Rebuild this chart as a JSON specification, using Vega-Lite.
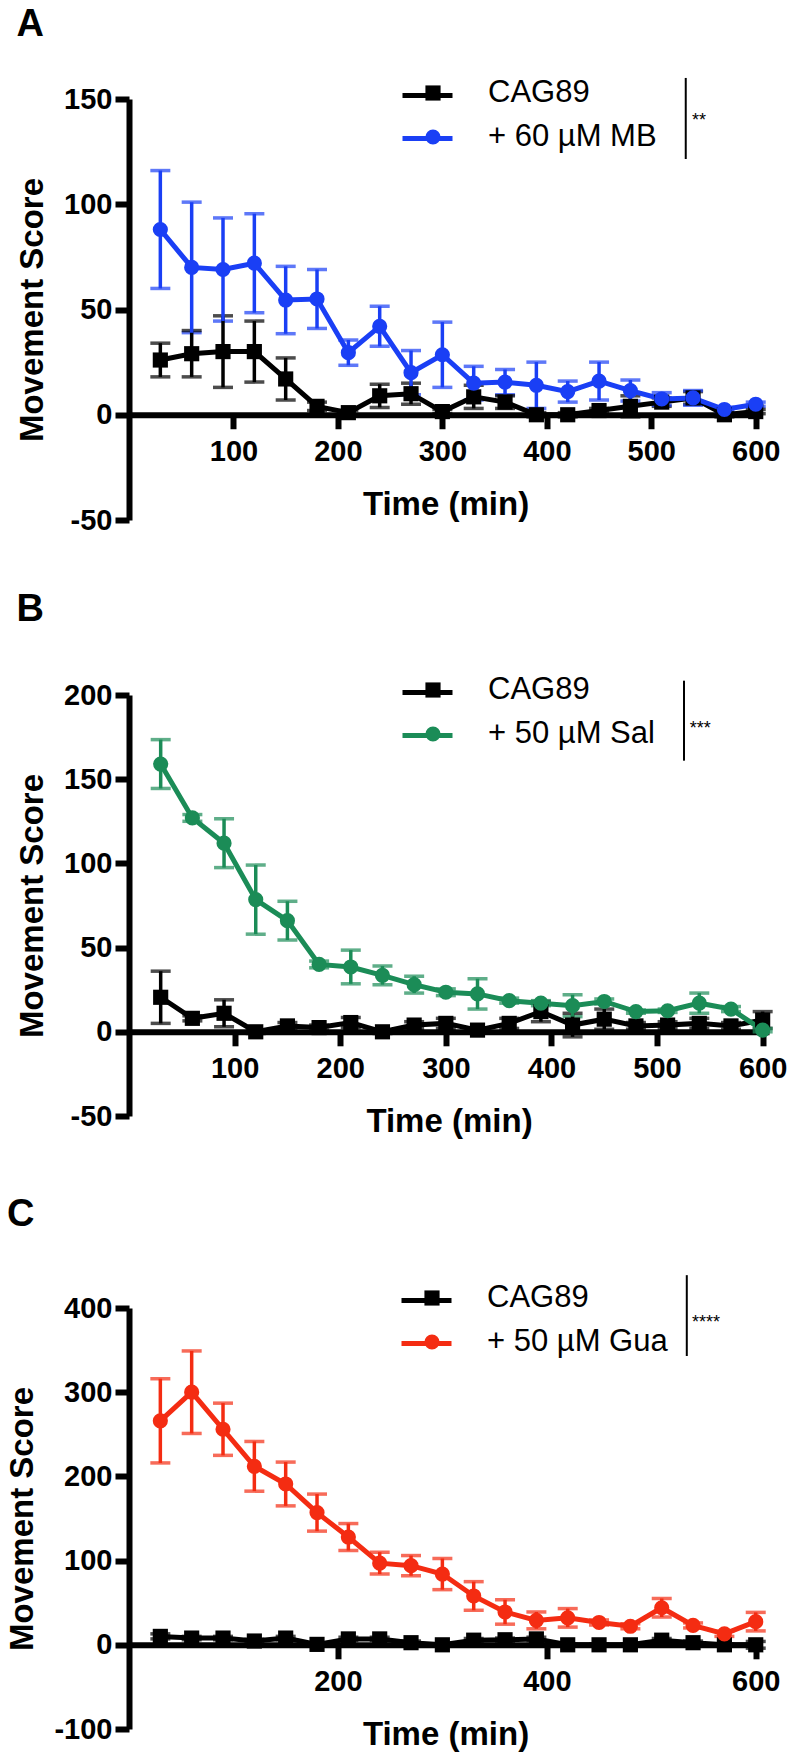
{
  "$schema": "https://vega.github.io/schema/vega-lite/v6.json",
  "background": "white",
  "padding": {"top": 6, "left": 6, "right": 0, "bottom": 0},
  "config": {
    "view": {"stroke": null},
    "font": "Liberation Sans",
    "axis": {"domainColor": "black", "domainWidth": 6, "tickColor": "black", "tickWidth": 6, "tickSize": 14, "labelFont": "Liberation Sans", "labelFontWeight": "bold", "labelFontSize": 29, "labelColor": "black", "titleFont": "Liberation Sans", "titleFontWeight": "bold", "titleFontSize": 33, "titleColor": "black", "grid": false, "labelFlush": false, "labelOverlap": false},
    "axisX": {"labelPadding": 9, "titlePadding": 22},
    "axisY": {"labelPadding": 3, "titlePadding": 14},
    "title": {"font": "Liberation Sans", "fontSize": 38, "fontWeight": "bold", "anchor": "start", "frame": "bounds", "color": "black"},
    "legend": {"orient": "none", "title": null, "padding": 0, "labelFont": "Liberation Sans", "labelFontSize": 31, "labelColor": "black", "labelFontWeight": "normal", "labelLimit": 500, "rowPadding": 12, "symbolOpacity": 1}
  },
  "datasets": {
    "A": [
      {"time": 30, "group": "CAG89", "mean": 26, "sem": 8},
      {"time": 60, "group": "CAG89", "mean": 29, "sem": 11},
      {"time": 90, "group": "CAG89", "mean": 30, "sem": 17},
      {"time": 120, "group": "CAG89", "mean": 30, "sem": 14.5},
      {"time": 150, "group": "CAG89", "mean": 17, "sem": 10},
      {"time": 180, "group": "CAG89", "mean": 4, "sem": 2},
      {"time": 210, "group": "CAG89", "mean": 1, "sem": 1},
      {"time": 240, "group": "CAG89", "mean": 9, "sem": 5.5},
      {"time": 270, "group": "CAG89", "mean": 10, "sem": 5},
      {"time": 300, "group": "CAG89", "mean": 1.5, "sem": 1},
      {"time": 330, "group": "CAG89", "mean": 8.5, "sem": 5.5},
      {"time": 360, "group": "CAG89", "mean": 6, "sem": 3},
      {"time": 390, "group": "CAG89", "mean": 0, "sem": 1},
      {"time": 420, "group": "CAG89", "mean": 0, "sem": 1},
      {"time": 450, "group": "CAG89", "mean": 2, "sem": 1},
      {"time": 480, "group": "CAG89", "mean": 4, "sem": 5},
      {"time": 510, "group": "CAG89", "mean": 6, "sem": 2},
      {"time": 540, "group": "CAG89", "mean": 8, "sem": 3},
      {"time": 570, "group": "CAG89", "mean": 0, "sem": 1},
      {"time": 600, "group": "CAG89", "mean": 1.5, "sem": 1},
      {"time": 30, "group": "+ 60 µM MB", "mean": 88, "sem": 28},
      {"time": 60, "group": "+ 60 µM MB", "mean": 70, "sem": 31},
      {"time": 90, "group": "+ 60 µM MB", "mean": 69, "sem": 24.5},
      {"time": 120, "group": "+ 60 µM MB", "mean": 72, "sem": 23.5},
      {"time": 150, "group": "+ 60 µM MB", "mean": 54.5, "sem": 16},
      {"time": 180, "group": "+ 60 µM MB", "mean": 55, "sem": 14},
      {"time": 210, "group": "+ 60 µM MB", "mean": 29.5, "sem": 6},
      {"time": 240, "group": "+ 60 µM MB", "mean": 42, "sem": 9.5},
      {"time": 270, "group": "+ 60 µM MB", "mean": 20, "sem": 10.5},
      {"time": 300, "group": "+ 60 µM MB", "mean": 28.5, "sem": 15.5},
      {"time": 330, "group": "+ 60 µM MB", "mean": 15, "sem": 8},
      {"time": 360, "group": "+ 60 µM MB", "mean": 15.5, "sem": 6},
      {"time": 390, "group": "+ 60 µM MB", "mean": 14, "sem": 11},
      {"time": 420, "group": "+ 60 µM MB", "mean": 11, "sem": 5},
      {"time": 450, "group": "+ 60 µM MB", "mean": 16, "sem": 9},
      {"time": 480, "group": "+ 60 µM MB", "mean": 11.5, "sem": 5},
      {"time": 510, "group": "+ 60 µM MB", "mean": 7.5, "sem": 3},
      {"time": 540, "group": "+ 60 µM MB", "mean": 8, "sem": 3.5},
      {"time": 570, "group": "+ 60 µM MB", "mean": 2.5, "sem": 1},
      {"time": 600, "group": "+ 60 µM MB", "mean": 5, "sem": 1}
    ],
    "B": [
      {"time": 30, "group": "CAG89", "mean": 20.5, "sem": 15.5},
      {"time": 60, "group": "CAG89", "mean": 8, "sem": 1.5},
      {"time": 90, "group": "CAG89", "mean": 11, "sem": 8},
      {"time": 120, "group": "CAG89", "mean": 0, "sem": 1},
      {"time": 150, "group": "CAG89", "mean": 3.5, "sem": 2},
      {"time": 180, "group": "CAG89", "mean": 2.5, "sem": 1.5},
      {"time": 210, "group": "CAG89", "mean": 5.5, "sem": 3},
      {"time": 240, "group": "CAG89", "mean": 0, "sem": 1},
      {"time": 270, "group": "CAG89", "mean": 4, "sem": 2},
      {"time": 300, "group": "CAG89", "mean": 5, "sem": 3},
      {"time": 330, "group": "CAG89", "mean": 1, "sem": 1},
      {"time": 360, "group": "CAG89", "mean": 5, "sem": 3},
      {"time": 390, "group": "CAG89", "mean": 12, "sem": 6},
      {"time": 420, "group": "CAG89", "mean": 4, "sem": 7},
      {"time": 450, "group": "CAG89", "mean": 7.5, "sem": 6},
      {"time": 480, "group": "CAG89", "mean": 3.5, "sem": 2},
      {"time": 510, "group": "CAG89", "mean": 4, "sem": 2},
      {"time": 540, "group": "CAG89", "mean": 5, "sem": 3},
      {"time": 570, "group": "CAG89", "mean": 3.5, "sem": 2},
      {"time": 600, "group": "CAG89", "mean": 7, "sem": 5},
      {"time": 30, "group": "+ 50 µM Sal", "mean": 159, "sem": 14.5},
      {"time": 60, "group": "+ 50 µM Sal", "mean": 127, "sem": 2},
      {"time": 90, "group": "+ 50 µM Sal", "mean": 112, "sem": 14.5},
      {"time": 120, "group": "+ 50 µM Sal", "mean": 78.5, "sem": 20.5},
      {"time": 150, "group": "+ 50 µM Sal", "mean": 66, "sem": 11.5},
      {"time": 180, "group": "+ 50 µM Sal", "mean": 40, "sem": 2},
      {"time": 210, "group": "+ 50 µM Sal", "mean": 38.5, "sem": 10},
      {"time": 240, "group": "+ 50 µM Sal", "mean": 33.5, "sem": 5.5},
      {"time": 270, "group": "+ 50 µM Sal", "mean": 28, "sem": 5},
      {"time": 300, "group": "+ 50 µM Sal", "mean": 23.5, "sem": 2},
      {"time": 330, "group": "+ 50 µM Sal", "mean": 22.5, "sem": 9},
      {"time": 360, "group": "+ 50 µM Sal", "mean": 18.5, "sem": 1.5},
      {"time": 390, "group": "+ 50 µM Sal", "mean": 17, "sem": 1.5},
      {"time": 420, "group": "+ 50 µM Sal", "mean": 15.5, "sem": 6.5},
      {"time": 450, "group": "+ 50 µM Sal", "mean": 18, "sem": 1.5},
      {"time": 480, "group": "+ 50 µM Sal", "mean": 12, "sem": 1},
      {"time": 510, "group": "+ 50 µM Sal", "mean": 12.5, "sem": 1},
      {"time": 540, "group": "+ 50 µM Sal", "mean": 17, "sem": 6},
      {"time": 570, "group": "+ 50 µM Sal", "mean": 13.5, "sem": 1.5},
      {"time": 600, "group": "+ 50 µM Sal", "mean": 1, "sem": 1}
    ],
    "C": [
      {"time": 30, "group": "CAG89", "mean": 10, "sem": 3},
      {"time": 60, "group": "CAG89", "mean": 8, "sem": 2},
      {"time": 90, "group": "CAG89", "mean": 8, "sem": 2},
      {"time": 120, "group": "CAG89", "mean": 4.5, "sem": 2},
      {"time": 150, "group": "CAG89", "mean": 8, "sem": 2},
      {"time": 180, "group": "CAG89", "mean": 0.5, "sem": 1},
      {"time": 210, "group": "CAG89", "mean": 7, "sem": 2},
      {"time": 240, "group": "CAG89", "mean": 7, "sem": 2},
      {"time": 270, "group": "CAG89", "mean": 2.5, "sem": 2},
      {"time": 300, "group": "CAG89", "mean": 0, "sem": 1},
      {"time": 330, "group": "CAG89", "mean": 5.5, "sem": 2},
      {"time": 360, "group": "CAG89", "mean": 6, "sem": 2},
      {"time": 390, "group": "CAG89", "mean": 7, "sem": 2},
      {"time": 420, "group": "CAG89", "mean": 0, "sem": 1},
      {"time": 450, "group": "CAG89", "mean": 0, "sem": 1},
      {"time": 480, "group": "CAG89", "mean": 0, "sem": 1},
      {"time": 510, "group": "CAG89", "mean": 5.5, "sem": 2},
      {"time": 540, "group": "CAG89", "mean": 2.5, "sem": 2},
      {"time": 570, "group": "CAG89", "mean": 0, "sem": 1},
      {"time": 600, "group": "CAG89", "mean": 0, "sem": 4},
      {"time": 30, "group": "+ 50 µM Gua", "mean": 266, "sem": 50},
      {"time": 60, "group": "+ 50 µM Gua", "mean": 300, "sem": 49},
      {"time": 90, "group": "+ 50 µM Gua", "mean": 256, "sem": 31},
      {"time": 120, "group": "+ 50 µM Gua", "mean": 212, "sem": 29.5},
      {"time": 150, "group": "+ 50 µM Gua", "mean": 191, "sem": 26},
      {"time": 180, "group": "+ 50 µM Gua", "mean": 157, "sem": 22},
      {"time": 210, "group": "+ 50 µM Gua", "mean": 128, "sem": 16},
      {"time": 240, "group": "+ 50 µM Gua", "mean": 97, "sem": 13},
      {"time": 270, "group": "+ 50 µM Gua", "mean": 94, "sem": 12},
      {"time": 300, "group": "+ 50 µM Gua", "mean": 84, "sem": 18.5},
      {"time": 330, "group": "+ 50 µM Gua", "mean": 58, "sem": 17},
      {"time": 360, "group": "+ 50 µM Gua", "mean": 39, "sem": 14.5},
      {"time": 390, "group": "+ 50 µM Gua", "mean": 29, "sem": 10},
      {"time": 420, "group": "+ 50 µM Gua", "mean": 32, "sem": 11},
      {"time": 450, "group": "+ 50 µM Gua", "mean": 26.5, "sem": 3},
      {"time": 480, "group": "+ 50 µM Gua", "mean": 22, "sem": 3},
      {"time": 510, "group": "+ 50 µM Gua", "mean": 44, "sem": 11},
      {"time": 540, "group": "+ 50 µM Gua", "mean": 23, "sem": 3},
      {"time": 570, "group": "+ 50 µM Gua", "mean": 13, "sem": 3},
      {"time": 600, "group": "+ 50 µM Gua", "mean": 27.5, "sem": 11}
    ]
  },
  "bounds": "flush",
  "spacing": 175,
  "resolve": {"scale": {"x": "independent", "y": "independent", "color": "independent", "shape": "independent", "stroke": "independent"}},
  "vconcat": [
    {
      "title": {"text": "A", "offset": 24},
      "width": 633,
      "height": 421,
      "layer": [
        {
          "data": {"name": "A"},
          "encoding": {
            "x": {"field": "time", "type": "quantitative", "scale": {"domain": [0, 606], "nice": false, "zero": false}, "axis": {"values": [100, 200, 300, 400, 500, 600], "title": "Time (min)", "offset": -105.25}},
            "y": {"field": "mean", "type": "quantitative", "scale": {"domain": [-50, 150], "nice": false, "zero": false}, "axis": {"values": [-50, 0, 50, 100, 150], "title": "Movement Score", "labelExpr": "datum.value < 0 ? '-' + abs(datum.value) : '' + datum.value"}},
            "color": {"field": "group", "type": "nominal", "scale": {"domain": ["CAG89", "+ 60 µM MB"], "range": ["#000000", "#1a3ff5"]},
              "legend": {"legendX": 288.5, "legendY": -21.5, "symbolSize": 230, "labelOffset": 39.5, "symbolStrokeWidth": 0}}
          },
          "layer": [
            {"mark": {"type": "errorbar", "ticks": true, "size": 20, "thickness": 3.5}, "encoding": {"yError": {"field": "sem"}}},
            {"mark": {"type": "line", "strokeWidth": 5}, "encoding": {"stroke": {"field": "group", "type": "nominal", "sort": ["CAG89", "+ 60 µM MB"], "scale": {"range": ["#000000", "#1a3ff5"]},
              "legend": {"legendX": 271, "legendY": -31, "symbolType": "stroke", "symbolSize": 2500, "symbolStrokeWidth": 5, "labelOffset": 25, "labelExpr": "''", "rowPadding": -7}}}},
            {"mark": {"type": "point", "filled": true, "size": 230, "opacity": 1}, "encoding": {"shape": {"field": "group", "type": "nominal", "scale": {"domain": ["CAG89", "+ 60 µM MB"], "range": ["square", "circle"]}, "legend": null}}}
          ]
        },
        {"data": {"values": [{"label": "**"}]}, "mark": {"type": "rule", "strokeWidth": 2, "color": "black"}, "encoding": {"x": {"datum": 533}, "y": {"datum": 160}, "y2": {"datum": 121.5}}},
        {"data": {"values": [{"label": "**"}]}, "mark": {"type": "text", "align": "left", "baseline": "alphabetic", "fontSize": 18, "font": "Liberation Sans", "color": "black"}, "encoding": {"x": {"datum": 539}, "y": {"datum": 137}, "text": {"field": "label"}}}
      ]
    },
    {
      "bounds": "flush",
      "spacing": 192,
      "resolve": {"scale": {"x": "independent", "y": "independent", "color": "independent", "shape": "independent", "stroke": "independent"}},
      "vconcat": [
        {
          "title": {"text": "B", "offset": 35.8},
          "width": 640,
          "height": 421,
          "layer": [
            {
              "data": {"name": "B"},
              "encoding": {
                "x": {"field": "time", "type": "quantitative", "scale": {"domain": [0, 606], "nice": false, "zero": false}, "axis": {"values": [100, 200, 300, 400, 500, 600], "title": "Time (min)", "offset": -84.2}},
                "y": {"field": "mean", "type": "quantitative", "scale": {"domain": [-50, 200], "nice": false, "zero": false}, "axis": {"values": [-50, 0, 50, 100, 150, 200], "title": "Movement Score", "labelExpr": "datum.value < 0 ? '-' + abs(datum.value) : '' + datum.value"}},
                "color": {"field": "group", "type": "nominal", "scale": {"domain": ["CAG89", "+ 50 µM Sal"], "range": ["#000000", "#1b8c57"]},
                  "legend": {"legendX": 288.5, "legendY": -20.5, "symbolSize": 230, "labelOffset": 39.5, "symbolStrokeWidth": 0}}
              },
              "layer": [
                {"mark": {"type": "errorbar", "ticks": true, "size": 20, "thickness": 3.5}, "encoding": {"yError": {"field": "sem"}}},
                {"mark": {"type": "line", "strokeWidth": 5}, "encoding": {"stroke": {"field": "group", "type": "nominal", "sort": ["CAG89", "+ 50 µM Sal"], "scale": {"range": ["#000000", "#1b8c57"]},
                  "legend": {"legendX": 271, "legendY": -30, "symbolType": "stroke", "symbolSize": 2500, "symbolStrokeWidth": 5, "labelOffset": 25, "labelExpr": "''", "rowPadding": -7}}}},
                {"mark": {"type": "point", "filled": true, "size": 230, "opacity": 1}, "encoding": {"shape": {"field": "group", "type": "nominal", "scale": {"domain": ["CAG89", "+ 50 µM Sal"], "range": ["square", "circle"]}, "legend": null}}}
              ]
            },
            {"data": {"values": [{"label": "***"}]}, "mark": {"type": "rule", "strokeWidth": 2, "color": "black"}, "encoding": {"x": {"datum": 525.5}, "y": {"datum": 208.5}, "y2": {"datum": 161}}},
            {"data": {"values": [{"label": "***"}]}, "mark": {"type": "text", "align": "left", "baseline": "alphabetic", "fontSize": 18, "font": "Liberation Sans", "color": "black"}, "encoding": {"x": {"datum": 531}, "y": {"datum": 177}, "text": {"field": "label"}}}
          ]
        },
        {
          "title": {"text": "C", "offset": 39.1},
          "width": 633,
          "height": 421,
          "layer": [
            {
              "data": {"name": "C"},
              "encoding": {
                "x": {"field": "time", "type": "quantitative", "scale": {"domain": [0, 606], "nice": false, "zero": false}, "axis": {"values": [200, 400, 600], "title": "Time (min)", "offset": -84.2}},
                "y": {"field": "mean", "type": "quantitative", "scale": {"domain": [-100, 400], "nice": false, "zero": false}, "axis": {"values": [-100, 0, 100, 200, 300, 400], "title": "Movement Score", "labelExpr": "datum.value < 0 ? '-' + abs(datum.value) : '' + datum.value"}},
                "color": {"field": "group", "type": "nominal", "scale": {"domain": ["CAG89", "+ 50 µM Gua"], "range": ["#000000", "#f42c12"]},
                  "legend": {"legendX": 287.5, "legendY": -25.5, "symbolSize": 230, "labelOffset": 39.5, "symbolStrokeWidth": 0}}
              },
              "layer": [
                {"mark": {"type": "errorbar", "ticks": true, "size": 20, "thickness": 3.5}, "encoding": {"yError": {"field": "sem"}}},
                {"mark": {"type": "line", "strokeWidth": 5}, "encoding": {"stroke": {"field": "group", "type": "nominal", "sort": ["CAG89", "+ 50 µM Gua"], "scale": {"range": ["#000000", "#f42c12"]},
                  "legend": {"legendX": 270, "legendY": -35, "symbolType": "stroke", "symbolSize": 2500, "symbolStrokeWidth": 5, "labelOffset": 25, "labelExpr": "''", "rowPadding": -7}}}},
                {"mark": {"type": "point", "filled": true, "size": 230, "opacity": 1}, "encoding": {"shape": {"field": "group", "type": "nominal", "scale": {"domain": ["CAG89", "+ 50 µM Gua"], "range": ["square", "circle"]}, "legend": null}}}
              ]
            },
            {"data": {"values": [{"label": "****"}]}, "mark": {"type": "rule", "strokeWidth": 2, "color": "black"}, "encoding": {"x": {"datum": 534}, "y": {"datum": 439}, "y2": {"datum": 343}}},
            {"data": {"values": [{"label": "****"}]}, "mark": {"type": "text", "align": "left", "baseline": "alphabetic", "fontSize": 18, "font": "Liberation Sans", "color": "black"}, "encoding": {"x": {"datum": 539}, "y": {"datum": 376}, "text": {"field": "label"}}}
          ]
        }
      ]
    }
  ]
}
